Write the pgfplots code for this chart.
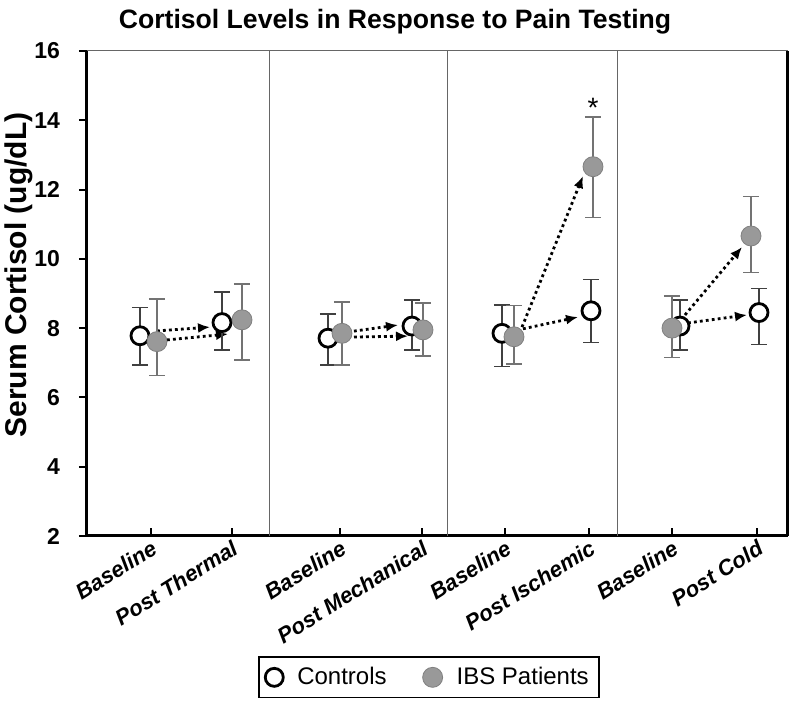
\documentclass[border=0pt]{standalone}
\usepackage{fontspec}
\setmainfont{Liberation Sans}
\usepackage{pgfplots}
\usepackage{pgfplotstable}
\pgfplotsset{compat=1.18}
\usetikzlibrary{arrows.meta}

\pgfplotstableread{
x y ep em
140 7.78 0.82 0.84
222 8.16 0.88 0.79
328 7.71 0.70 0.77
412 8.06 0.75 0.69
502 7.85 0.82 0.96
591 8.50 0.91 0.92
680 8.06 0.75 0.69
759 8.45 0.70 0.92
}\ctrl

\pgfplotstableread{
x y ep em
157 7.61 1.23 0.98
242 8.24 1.03 1.16
342 7.85 0.91 0.91
423 7.95 0.78 0.75
514 7.75 0.90 0.78
593 12.66 1.43 1.47
672 8.00 0.93 0.85
751 10.66 1.14 1.05
}\ibs

\begin{document}
\begin{tikzpicture}
\useasboundingbox (-43.5pt,-84.5pt) rectangle (356.5pt,268pt);
\begin{axis}[
  scale only axis, width=350.5pt, height=242.5pt,
  xmin=87, xmax=788, ymin=2, ymax=16,
  ytick={2,4,...,16},
  xtick={150.7,231.7,340,422,505,589,672,757},
  xticklabels={Baseline,Post Thermal,Baseline,Post Mechanical,Baseline,Post Ischemic,Baseline,Post Cold},
  axis x line*=bottom, axis y line*=left,
  axis line style={line width=1.5pt,-},
  xtick align=inside, ytick align=outside,
  major tick length=4pt,
  tick style={line width=1pt, black},
  xticklabel style={font=\bfseries\itshape\fontsize{11}{12}\selectfont, rotate=32, anchor=north east, inner sep=1pt},
  yticklabel style={font=\bfseries\fontsize{11.5}{12}\selectfont, xshift=-6pt},
  /pgf/number format/assume math mode=true,
  ylabel={Serum Cortisol (ug/dL)},
  ylabel style={font=\bfseries\fontsize{15}{17}\selectfont, at={(axis cs:19,9.53)}, anchor=center},
  clip=false,
  legend style={at={(axis cs:429,-2.08)}, anchor=center, legend columns=2, draw=black, line width=0.8pt,
    font=\fontsize{12}{13}\selectfont, /tikz/every even column/.append style={column sep=16pt}, inner sep=3pt},
]
% separators and frame
\draw[black!60, line width=0.5pt] (axis cs:270,2) -- (axis cs:270,16);
\draw[black!60, line width=0.5pt] (axis cs:448,2) -- (axis cs:448,16);
\draw[black!60, line width=0.5pt] (axis cs:618,2) -- (axis cs:618,16);
\draw[black!60, line width=0.5pt] (rel axis cs:0,1) -- (rel axis cs:1,1);
\draw[line width=1.5pt] (rel axis cs:1,0) -- (rel axis cs:1,1);

% arrows
\pgfplotsset{arr/.style={forget plot, black, line width=1.4pt, dash pattern=on 1.4pt off 1.6pt, -{Latex[length=6pt,width=5pt]}}}
\addplot[arr] coordinates {(157,7.92) (210,8.03)};
\addplot[arr] coordinates {(167,7.66) (228,7.83)};
\addplot[arr] coordinates {(348,7.89) (398,8.09)};
\addplot[arr] coordinates {(348,7.74) (408,7.77)};
\addplot[arr] coordinates {(522,8.03) (583,12.39)};
\addplot[arr] coordinates {(523,7.98) (578,8.32)};
\addplot[arr] coordinates {(685,8.38) (742,10.34)};
\addplot[arr] coordinates {(688,8.15) (747,8.38)};

\addplot[only marks, mark=*, mark size=4.5pt, mark options={fill=white, draw=black, line width=1.4pt},
  error bars/.cd, y dir=both, y explicit,
  error bar style={line width=0.6pt, draw=black!75},
  error mark=-,
  error mark options={rotate=90, mark size=4pt, line width=0.7pt, draw=black!75}]
  table[x=x, y=y, y error plus=ep, y error minus=em] {\ctrl};
\addlegendentry{\hspace{5pt}Controls}

\addplot[only marks, mark=*, mark size=5pt, mark options={fill=black!40, draw=black!50, line width=0.4pt},
  error bars/.cd, y dir=both, y explicit,
  error bar style={line width=0.6pt, draw=black!55},
  error mark=-,
  error mark options={rotate=90, mark size=4pt, line width=0.7pt, draw=black!55}]
  table[x=x, y=y, y error plus=ep, y error minus=em] {\ibs};
\addlegendentry{\hspace{5pt}IBS Patients}

\node[font=\fontsize{14}{14}\selectfont] at (axis cs:593,14.35) {*};
\node[font=\bfseries\fontsize{13.3}{15}\selectfont, anchor=base] at (axis cs:395,16.66) {Cortisol Levels in Response to Pain Testing};
\end{axis}
\end{tikzpicture}
\end{document}
